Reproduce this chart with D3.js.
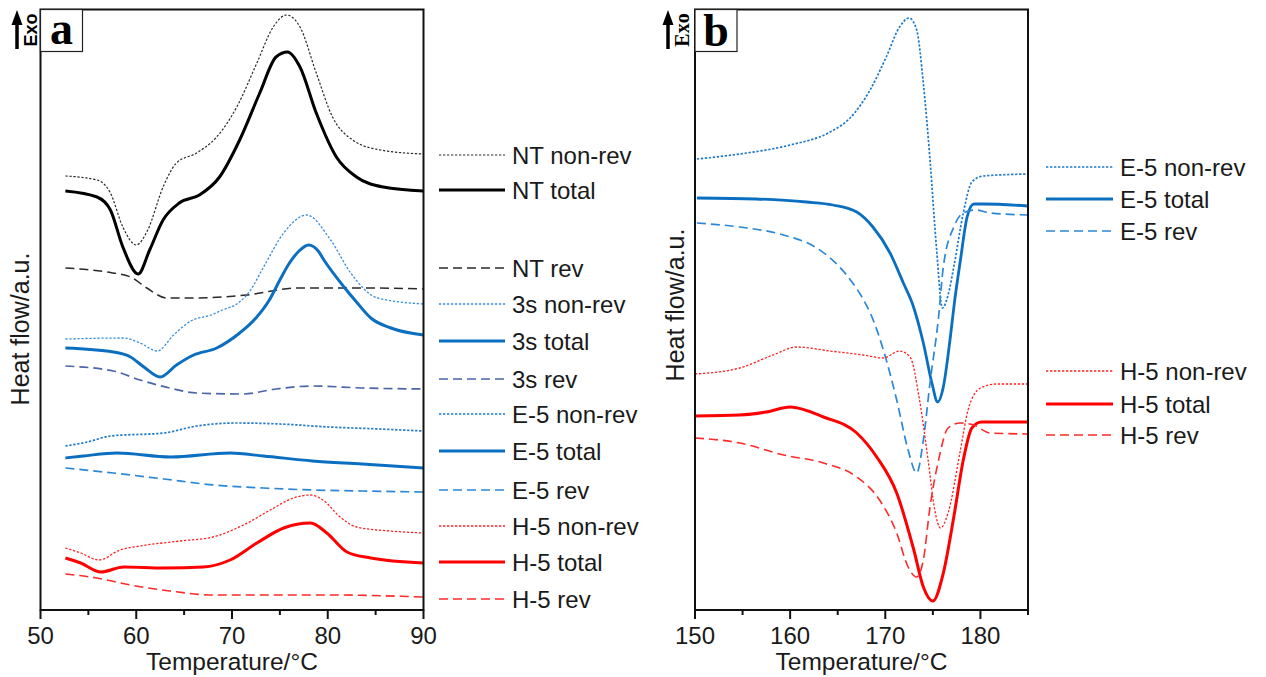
<!DOCTYPE html>
<html><head><meta charset="utf-8">
<script src="https://cdn.jsdelivr.net/npm/d3@7"></script>
<style>
body{margin:0;background:#fff}
svg{display:block}
text{font-family:"Liberation Sans",Arial,sans-serif;fill:#1a1a1a}
</style>
</head><body>
<svg id="c" width="1266" height="677"></svg>
<script>
// ---------- DATA (temperature °C, heat flow a.u.) ----------
// Panel a
const ntNonRev = [[52.6,434],[55.9,430],[57.3,417],[58.6,383],[60.0,365],[61.2,380],[62.8,423],[64.2,447],[66.3,457],[68.4,473],[70.5,503],[72.6,547],[74.3,583],[75.7,595],[77.1,583],[78.8,537],[80.5,493],[82.6,470],[85.5,460],[90,456]];
const ntTotal = [[52.6,419],[55.9,413],[57.3,400],[58.6,363],[60.2,336],[61.4,360],[62.8,390],[64.5,407],[66.6,415],[68.7,433],[70.8,470],[72.9,517],[74.6,553],[75.8,558],[77.1,543],[78.8,497],[80.9,453],[83,433],[85.8,423],[90,419]];
const ntRev = [[52.6,342],[56.9,338],[59.4,333],[61.1,322],[63.2,312],[66.3,312],[71.5,315],[76.8,322],[83.7,322],[90,321]];
const s3NonRev = [[52.6,271],[58.7,272],[60.4,267],[62.2,259],[63.9,275],[65.7,289],[67.8,295],[69.0,300],[70.5,306],[71.8,318],[73.3,343],[75.4,377],[77.8,395],[80.3,370],[82.4,337],[85.2,312],[90,306]];
const s3Total = [[52.6,262],[57.6,258],[59.4,253],[60.8,243],[62.5,233],[64.2,245],[66,255],[68.4,262],[70.8,277],[72.5,292],[73.9,310],[75.0,330],[76.0,347],[77.0,359],[78,365],[79.0,359],[79.6,350],[81.7,323],[83.0,308],[84.5,292],[86.6,282],[90,275]];
const s3Rev = [[52.6,244],[57.6,239],[60.4,230],[63.5,222],[66.3,217],[71.1,216],[74.6,221],[78.4,224],[83.6,222],[90,221]];
const e5NonRevA = [[52.6,164],[54.9,168],[57.3,174],[62.9,177],[66.3,184],[70.5,187],[75,186],[80.2,183],[85.4,181],[90,179]];
const e5TotalA = [[52.6,152],[54.5,154],[58,157],[63.6,153],[69.8,157],[73.3,154],[78.4,149],[83.6,146],[90,142]];
const e5RevA = [[52.6,142],[57.6,137],[62.9,131],[68.1,125],[73.3,122],[78.4,120],[83.6,119],[90,118]];
const h5NonRevA = [[52.6,62],[54.2,57],[56.1,50],[58.3,60],[60.4,64],[64.6,69],[68,73],[71.2,85],[74,100],[76.4,112],[78.2,115],[79.5,110],[81.3,93],[83,83],[86.5,79],[90,77]];
const h5TotalA = [[52.6,52],[54.2,47],[56.3,38],[58.7,43],[62.9,42],[67,43],[69.8,50],[72.6,67],[75.4,82],[78.2,87],[79.9,77],[82,58],[84.5,52],[90,47]];
const h5RevA = [[52.6,36],[55.9,32],[59.4,25],[63.5,19],[68.1,15],[73.3,15],[80.2,15],[90,13]];
// Panel b
const e5NonRevB = [[150.2,451],[154.7,456],[160,465],[164.2,478],[166.3,492],[168.4,520],[170.1,553],[171.5,583],[172.5,592],[173.3,580],[174,527],[174.7,450],[175.4,360],[176.0,302],[176.6,315],[177.2,343],[178.2,397],[179.1,428],[180.3,434],[185,436]];
const e5TotalB = [[150.2,412],[156.4,411],[161.7,408],[164.5,405],[167,398],[168.7,383],[170.5,357],[171.9,327],[172.9,305],[174,267],[174.9,227],[175.5,208],[176.1,223],[176.8,270],[177.3,310],[177.9,350],[178.6,393],[179.3,406],[180.3,406],[185,404]];
const e5RevB = [[150.2,387],[154.7,383],[159.3,375],[162.8,362],[165.2,343],[166.5,328],[167.6,312],[168.6,293],[169.8,260],[171.2,210],[172.4,160],[173.3,137],[174,170],[174.7,227],[175.6,293],[176.1,343],[177.2,383],[178.2,397],[179.5,400],[181,397],[185,395]];
const h5NonRevB = [[150,236],[154.7,242],[158.2,255],[160.7,263],[164.2,259],[167.7,255],[169.8,252],[171.5,259],[172.6,253],[173.6,210],[174.5,150],[175.2,100],[175.8,82],[176.6,97],[177.9,160],[178.7,200],[180,222],[181.7,226],[185,226]];
const h5TotalB = [[150,194],[154.7,195],[157.5,198],[160,203],[163.5,193],[167,177],[169.1,153],[171.2,117],[173,60],[174,23],[175,9],[176.1,37],[177.2,93],[178.2,150],[179.1,182],[180.1,188],[185,188]];
const h5RevB = [[150,172],[154.7,167],[159.3,155],[163.5,147],[167,133],[169.4,110],[171.2,77],[172.4,43],[173.3,33],[174,50],[174.7,103],[175.6,150],[176.6,182],[177.9,187],[179.3,185],[181,177],[185,176]];

const xTicksA = [50,60,70,80,90];
const xTicksB = [150,160,170,180];
const legendA = ["NT non-rev","NT total","NT rev","3s non-rev","3s total","3s rev","E-5 non-rev","E-5 total","E-5 rev","H-5 non-rev","H-5 total","H-5 rev"];
const legendB = ["E-5 non-rev","E-5 total","E-5 rev","H-5 non-rev","H-5 total","H-5 rev"];

// ---------- STYLES ----------
const DOT = "2.3,1.7", DASH = "9,5";
const st = {
  "NT non-rev":{c:"#2a2a2a",w:1.2,d:DOT},
  "NT total":{c:"#000",w:3,d:null},
  "NT rev":{c:"#2a2a2a",w:1.5,d:DASH},
  "3s non-rev":{c:"#3a8fdc",w:1.3,d:DOT},
  "3s total":{c:"#0b6fc1",w:3,d:null},
  "3s rev":{c:"#4a66a8",w:1.7,d:DASH},
  "E-5 non-rev":{c:"#1d79c9",w:1.7,d:DOT},
  "E-5 total":{c:"#0b6fc1",w:2.8,d:null},
  "E-5 rev":{c:"#2c88d6",w:1.7,d:DASH},
  "H-5 non-rev":{c:"#ff2020",w:1.3,d:DOT},
  "H-5 total":{c:"#ff0000",w:3,d:null},
  "H-5 rev":{c:"#ff2a2a",w:1.6,d:DASH}
};

const svg = d3.select("#c");
const yTop = 9.5, yBot = 610;

function panel(cfg){
  const x = d3.scaleLinear().domain(cfg.xd).range([cfg.x0, cfg.x1]);
  const y = d3.scaleLinear().domain([0,600.5]).range([yBot, yTop]);
  const g = svg.append("g");
  const cid = "clip"+cfg.id;
  svg.append("clipPath").attr("id",cid).append("rect")
    .attr("x",cfg.x0).attr("y",yTop).attr("width",cfg.x1-cfg.x0).attr("height",yBot-yTop);
  const line = d3.line().x(d=>x(d[0])).y(d=>y(d[1])).curve(d3.curveMonotoneX);
  const lg = g.append("g").attr("clip-path",`url(#${cid})`);
  cfg.series.forEach(([name,data])=>{
    const s = st[name];
    lg.append("path").datum(data).attr("d",line).attr("fill","none")
      .attr("stroke",s.c).attr("stroke-width",s.w).attr("stroke-dasharray",s.d)
      .attr("stroke-linejoin","round");
  });
  // frame
  g.append("rect").attr("x",cfg.x0).attr("y",yTop).attr("width",cfg.x1-cfg.x0).attr("height",yBot-yTop)
    .attr("fill","none").attr("stroke","#111").attr("stroke-width",2);
  // axis ticks
  const minor = d3.range(cfg.xd[0], cfg.xd[1]+0.01, 5);
  const ax = g.append("g");
  ax.selectAll("line.t").data(minor).join("line")
    .attr("x1",d=>x(d)).attr("x2",d=>x(d)).attr("y1",yBot)
    .attr("y2",d=>yBot + (d%10===0?9:5)).attr("stroke","#111").attr("stroke-width",2);
  ax.selectAll("text").data(cfg.ticks).join("text")
    .attr("x",d=>x(d)).attr("y",644).attr("text-anchor","middle")
    .attr("font-size",24).text(d=>d);
  g.append("text").attr("x",(cfg.x0+cfg.x1)/2).attr("y",670).attr("text-anchor","middle")
    .attr("font-size",24.5).text("Temperature/°C");
  g.append("text").attr("transform",`translate(${cfg.ylx},${cfg.yly}) rotate(-90)`)
    .attr("text-anchor","middle").attr("font-size",25).text("Heat flow/a.u.");
  // letter box
  g.append("rect").attr("x",cfg.x0).attr("y",yTop).attr("width",42).attr("height",42)
    .attr("fill","#fff").attr("stroke","#222").attr("stroke-width",1.2);
  g.append("text").attr("x",cfg.x0+21).attr("y",cfg.id==="a"?44:46).attr("text-anchor","middle")
    .style("font-family","'Liberation Serif','DejaVu Serif',serif").attr("font-weight","bold")
    .attr("font-size",cfg.id==="a"?46:46).style("fill","#000").text(cfg.id);
  // exo arrow
  const ex = cfg.exoX;
  g.append("line").attr("x1",ex).attr("x2",ex).attr("y1",49).attr("y2",22).attr("stroke","#000").attr("stroke-width",3.5);
  g.append("path").attr("d",`M${ex-5.5},25 L${ex},10 L${ex+5.5},25 Z`).attr("fill","#000");
  g.append("text").attr("transform",`translate(${cfg.exoTx},30) rotate(-90)`).attr("text-anchor","middle")
    .style("font-family",cfg.id==="a"?"'Liberation Sans',Arial,sans-serif":"'Liberation Serif',serif")
    .attr("font-weight","bold").attr("font-size",cfg.id==="a"?18:20).style("fill","#000").text("Exo");
  // legend
  const leg = g.append("g");
  cfg.legend.forEach((name,i)=>{
    const s = st[name], yy = cfg.legY[i];
    leg.append("line").attr("x1",cfg.lx1).attr("x2",cfg.lx2).attr("y1",yy).attr("y2",yy)
      .attr("stroke",s.c).attr("stroke-width",s.w).attr("stroke-dasharray",s.d);
    leg.append("text").attr("x",cfg.lx2+7).attr("y",yy+8.5).attr("font-size",24).text(name);
  });
}

panel({id:"a", xd:[50,90], x0:40.5, x1:423.5, ticks:xTicksA, ylx:29, yly:329, exoX:17, exoTx:37,
  series:[["NT non-rev",ntNonRev],["NT total",ntTotal],["NT rev",ntRev],
          ["3s non-rev",s3NonRev],["3s total",s3Total],["3s rev",s3Rev],
          ["E-5 non-rev",e5NonRevA],["E-5 total",e5TotalA],["E-5 rev",e5RevA],
          ["H-5 non-rev",h5NonRevA],["H-5 total",h5TotalA],["H-5 rev",h5RevA]],
  legend:legendA, legY:[155,190,268,304,341,379,414,451,490,526,562,599], lx1:439, lx2:505});

panel({id:"b", xd:[150,185], x0:695, x1:1028, ticks:xTicksB, ylx:684, yly:305, exoX:668, exoTx:689,
  series:[["E-5 non-rev",e5NonRevB],["E-5 total",e5TotalB],["E-5 rev",e5RevB],
          ["H-5 non-rev",h5NonRevB],["H-5 total",h5TotalB],["H-5 rev",h5RevB]],
  legend:legendB, legY:[167,199,231,371,404,435], lx1:1046, lx2:1113});
</script>
</body></html>
